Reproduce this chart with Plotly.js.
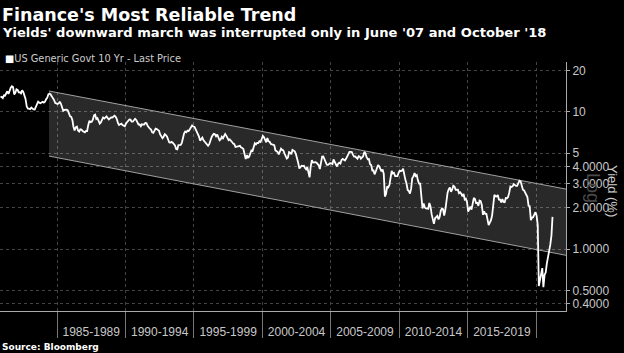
<!DOCTYPE html>
<html>
<head>
<meta charset="utf-8">
<script src="https://cdn.plot.ly/plotly-3.0.1.min.js"></script>
<style>
html,body{margin:0;padding:0;background:#000;}
#chart{width:624px;height:353px;}
</style>
</head>
<body>
<div id="chart"></div>
<script>
// Monthly US 10-year generic government yield (%), starting Nov 1980
const startYear = 1980, startMonth = 11;
const yields1980s = [12.68, 12.84,
  12.57, 13.19, 13.12, 13.68, 14.10, 13.47, 14.28, 14.94, 15.32, 15.15, 13.39, 13.72,
  14.59, 14.43, 13.86, 13.87, 13.62, 14.30, 13.95, 13.06, 12.34, 10.91, 10.55, 10.54,
  10.46, 10.72, 10.51, 10.40, 10.38, 10.85, 11.38, 11.85, 11.65, 11.54, 11.69, 11.83,
  11.67, 11.84, 12.32, 12.63, 13.41, 13.56, 13.36, 12.72, 12.52, 12.16, 11.57, 11.50,
  11.38, 11.51, 11.86, 11.43, 10.85, 10.16, 10.31, 10.33, 10.37, 10.24, 9.78, 9.26,
  9.19, 8.70, 7.78, 7.30, 7.71, 7.80, 7.30, 7.17, 7.45, 7.43, 7.25, 7.11,
  7.08, 7.25, 7.25, 8.02, 8.61, 8.40, 8.45, 8.76, 9.42, 9.52, 8.86, 8.99,
  8.67, 8.21, 8.37, 8.72, 9.09, 8.92, 9.06, 9.26, 8.98, 8.80, 8.96, 9.11,
  9.09, 9.17, 9.36, 9.18, 8.86, 8.28, 8.02, 8.11, 8.19, 8.01, 7.87, 7.84];
const yields1990s = [
  8.21, 8.47, 8.59, 8.79, 8.76, 8.48, 8.47, 8.75, 8.89, 8.72, 8.39, 8.08,
  8.09, 7.85, 8.11, 8.04, 8.07, 8.28, 8.27, 7.90, 7.65, 7.53, 7.42, 7.09,
  7.03, 7.34, 7.54, 7.48, 7.39, 7.26, 6.84, 6.59, 6.42, 6.59, 6.87, 6.77,
  6.60, 6.26, 5.98, 5.97, 6.04, 5.96, 5.81, 5.68, 5.36, 5.33, 5.72, 5.77,
  5.75, 5.97, 6.48, 6.97, 7.18, 7.10, 7.30, 7.24, 7.46, 7.74, 7.96, 7.81,
  7.78, 7.47, 7.20, 7.06, 6.63, 6.17, 6.28, 6.49, 6.20, 6.04, 5.93, 5.71,
  5.65, 5.81, 6.27, 6.51, 6.74, 6.91, 6.87, 6.64, 6.83, 6.53, 6.20, 6.30,
  6.58, 6.42, 6.69, 6.89, 6.71, 6.49, 6.22, 6.30, 6.21, 6.03, 5.88, 5.81,
  5.54, 5.57, 5.65, 5.64, 5.65, 5.50, 5.46, 5.34, 4.81, 4.53, 4.83, 4.65,
  4.72, 5.00, 5.23, 5.18, 5.54, 5.90, 5.79, 5.94, 5.92, 6.11, 6.03, 6.28];
const yields2000s = [
  6.66, 6.52, 6.26, 5.99, 6.44, 6.10, 6.05, 5.83, 5.80, 5.74, 5.72, 5.24,
  5.16, 5.10, 4.89, 5.14, 5.39, 5.28, 5.24, 4.97, 4.73, 4.57, 4.65, 5.09,
  5.04, 4.91, 5.28, 5.21, 5.16, 4.93, 4.65, 4.26, 3.87, 3.94, 4.05, 4.03,
  4.05, 3.90, 3.81, 3.96, 3.57, 3.33, 3.98, 4.45, 4.27, 4.29, 4.30, 4.27,
  4.15, 4.08, 3.83, 4.35, 4.72, 4.73, 4.50, 4.28, 4.13, 4.10, 4.19, 4.23,
  4.22, 4.17, 4.50, 4.34, 4.14, 4.00, 4.18, 4.26, 4.20, 4.46, 4.54, 4.47,
  4.42, 4.57, 4.72, 4.99, 5.11, 5.11, 5.09, 4.88, 4.72, 4.73, 4.60, 4.56,
  4.76, 4.72, 4.56, 4.69, 4.75, 5.10, 5.00, 4.67, 4.52, 4.53, 4.15, 4.10,
  3.74, 3.74, 3.51, 3.68, 3.88, 4.10, 4.01, 3.89, 3.69, 3.81, 3.53, 2.42,
  2.52, 2.87, 2.82, 2.93, 3.29, 3.72, 3.56, 3.59, 3.40, 3.39, 3.40, 3.59];
const yields2010s = [
  3.73, 3.69, 3.73, 3.85, 3.42, 3.20, 3.01, 2.70, 2.65, 2.54, 2.76, 3.29,
  3.39, 3.58, 3.41, 3.46, 3.17, 3.00, 3.00, 2.30, 1.98, 2.15, 2.01, 1.98,
  1.97, 1.97, 2.17, 2.05, 1.80, 1.62, 1.53, 1.68, 1.72, 1.75, 1.65, 1.72,
  1.91, 1.98, 1.96, 1.76, 1.93, 2.30, 2.58, 2.74, 2.81, 2.62, 2.72, 2.90,
  2.86, 2.71, 2.72, 2.71, 2.56, 2.60, 2.54, 2.42, 2.53, 2.30, 2.33, 2.21,
  1.88, 1.98, 2.04, 1.94, 2.20, 2.36, 2.32, 2.17, 2.17, 2.07, 2.26, 2.24,
  2.09, 1.78, 1.89, 1.81, 1.81, 1.64, 1.50, 1.56, 1.63, 1.76, 2.14, 2.49,
  2.43, 2.42, 2.48, 2.30, 2.30, 2.19, 2.32, 2.21, 2.20, 2.36, 2.35, 2.40,
  2.58, 2.86, 2.84, 2.87, 2.98, 2.91, 2.89, 2.89, 3.00, 3.15, 3.12, 2.83,
  2.71, 2.68, 2.57, 2.53, 2.40, 2.07, 2.06, 1.63, 1.70, 1.71, 1.81, 1.86];
const yields2020s = [
  1.76, 1.50, 0.54, 0.62, 0.66, 0.73, 0.53, 0.65, 0.68, 0.79, 0.87, 0.93,
  1.08, 1.26, 1.72];

// Trend channel (upper and lower bounds)
const channelDates = ['1984-06-01', '2022-03-10'];
const channelUpper = [14.15, 2.74];
const channelLower = [4.76, 0.904];

// Axis ticks
const yTickVals = [0.4, 0.5, 1, 2, 3, 4, 5, 10, 20];
const yTickText = ['0.4000', '0.5000', '1.0000', '2.0000', '3.0000', '4.0000', '5', '10', '20'];
const periodBounds = ['1985-01-01','1990-01-01','1995-01-01','2000-01-01','2005-01-01','2010-01-01','2015-01-01','2020-01-01'];
const periodMids = ['1987-07-02','1992-07-02','1997-07-02','2002-07-02','2007-07-02','2012-07-02','2017-07-02'];
const periodLabels = ['1985-1989','1990-1994','1995-1999','2000-2004','2005-2009','2010-2014','2015-2019'];

const yields = [].concat(yields1980s, yields1990s, yields2000s, yields2010s, yields2020s);
const dates = yields.map((v, i) => {
  const m0 = (startMonth - 1) + i;
  const y = startYear + Math.floor(m0 / 12);
  const m = (m0 % 12) + 1;
  return y + '-' + String(m).padStart(2, '0') + '-15';
});

const xRange = ['1980-11-01', '2022-03-10'];
const font = 'Liberation Sans, Arial, sans-serif';
const dfont = 'DejaVu Sans, sans-serif';

const traces = [
  {
    x: [channelDates[0], channelDates[1], channelDates[1], channelDates[0]],
    y: [channelUpper[0], channelUpper[1], channelLower[1], channelLower[0]],
    type: 'scatter', mode: 'lines', fill: 'toself', fillcolor: 'rgba(255,255,255,0.16)',
    line: {width: 0}, hoverinfo: 'skip', showlegend: false
  },
  {
    x: channelDates, y: channelUpper, type: 'scatter', mode: 'lines',
    line: {color: '#a0a0a0', width: 1}, showlegend: false
  },
  {
    x: channelDates, y: channelLower, type: 'scatter', mode: 'lines',
    line: {color: '#a0a0a0', width: 1}, showlegend: false
  },
  {
    x: dates, y: yields, type: 'scatter', mode: 'lines',
    name: 'US Generic Govt 10 Yr - Last Price',
    line: {color: '#ffffff', width: 1.8}, showlegend: false, xaxis: 'x2'
  }
];

const layout = {
  width: 624, height: 353,
  paper_bgcolor: '#000', plot_bgcolor: '#000',
  margin: {l: 0, r: 58, t: 62, b: 42},
  showlegend: false,
  font: {family: font, color: '#cccccc', size: 12},
  xaxis: {
    type: 'date', range: xRange,
    tickmode: 'array', tickvals: periodBounds, showticklabels: false,
    ticks: 'outside', ticklen: 26, tickcolor: '#777', tickwidth: 1,
    showgrid: true, gridcolor: '#444444', griddash: 'dot', gridwidth: 1,
    showline: true, linecolor: '#aaaaaa', linewidth: 1,
    zeroline: false, fixedrange: true
  },
  xaxis2: {
    type: 'date', range: xRange, overlaying: 'x', side: 'bottom',
    tickmode: 'array', tickvals: periodMids, ticktext: periodLabels,
    ticks: 'outside', ticklen: 10, tickcolor: 'rgba(0,0,0,0)',
    showgrid: false, showline: false, zeroline: false,
    tickfont: {family: font, size: 12, color: '#c8c8c8'}
  },
  yaxis: {
    type: 'log', side: 'right', range: [-0.449, 1.362],
    tickmode: 'array', tickvals: yTickVals, ticktext: yTickText,
    ticks: 'outside', ticklen: 3, tickcolor: '#aaaaaa',
    showgrid: true, gridcolor: '#444444', griddash: 'dot', gridwidth: 1,
    showline: true, linecolor: '#aaaaaa', linewidth: 1,
    tickfont: {family: font, size: 12, color: '#c8c8c8'},
    zeroline: false
  },
  annotations: [
    {text: "<b>Finance's Most Reliable Trend</b>", xref: 'paper', yref: 'paper',
     x: 0, y: 1 + (62 - 15) / 249, xanchor: 'left', yanchor: 'middle', showarrow: false,
     font: {family: dfont, size: 17.5, color: '#ffffff'}},
    {text: "<b>Yields' downward march was interrupted only in June '07 and October '18</b>", xref: 'paper', yref: 'paper',
     x: 0, y: 1 + (62 - 32) / 249, xanchor: 'left', yanchor: 'middle', showarrow: false,
     font: {family: dfont, size: 13.1, color: '#ffffff'}},
    {text: "<span style='color:#ffffff'>■</span>US Generic Govt 10 Yr - Last Price", xref: 'paper', yref: 'paper',
     x: 0.005, y: 1 + (62 - 58) / 249, xanchor: 'left', yanchor: 'middle', showarrow: false,
     font: {family: dfont, size: 9.8, color: '#cccccc'}},
    {text: "<b>Source: Bloomberg</b>", xref: 'paper', yref: 'paper',
     x: 0, y: (311 - 347) / 249, xanchor: 'left', yanchor: 'middle', showarrow: false,
     font: {family: dfont, size: 9, color: '#ffffff'}},
    {text: "Log", xref: 'paper', yref: 'paper', textangle: 90,
     x: 593 / 566, y: (311 - 188) / 249, xanchor: 'center', yanchor: 'middle', showarrow: false,
     font: {family: font, size: 18, color: '#4a4a4a'}},
    {text: "Yield (%)", xref: 'paper', yref: 'paper', textangle: 90,
     x: 613 / 566, y: (311 - 191) / 249, xanchor: 'center', yanchor: 'middle', showarrow: false,
     font: {family: font, size: 13, color: '#cccccc'}}
  ]
};

Plotly.newPlot('chart', traces, layout, {displayModeBar: false, staticPlot: true});
</script>
</body>
</html>
